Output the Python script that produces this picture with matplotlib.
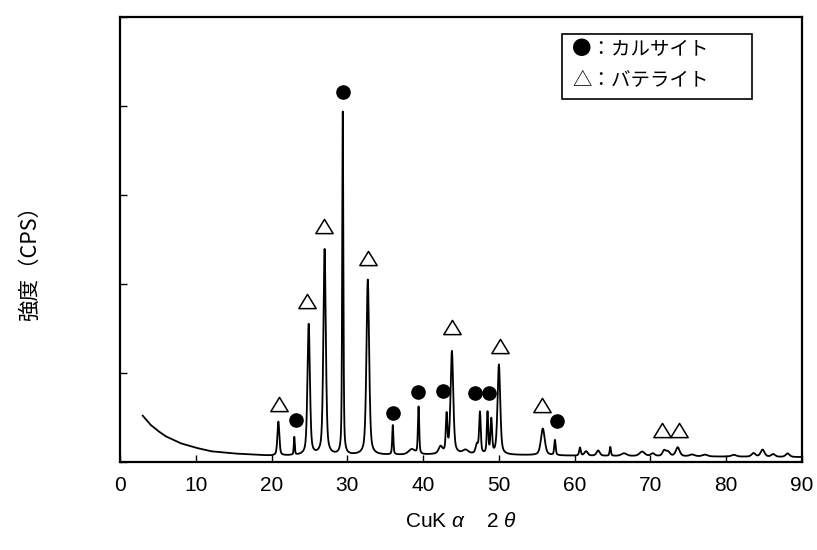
import numpy as np
import matplotlib
matplotlib.use("Agg")
import matplotlib.pyplot as plt
from matplotlib.patches import Rectangle
from matplotlib.path import Path

plt.rcParams['font.family'] = ['Liberation Sans', 'Noto Sans CJK JP', 'DejaVu Sans']
plt.rcParams['mathtext.fontset'] = 'custom'
plt.rcParams['mathtext.rm'] = 'Liberation Sans'
plt.rcParams['mathtext.it'] = 'Liberation Sans:italic'

# Background level of the diffraction trace (2θ, intensity)
bg_angle = [3, 4, 5, 6, 7, 8, 10, 12, 15, 18, 20, 30, 40, 45, 50, 60, 70, 80, 90]
bg_level = [0.52, 0.42, 0.35, 0.29, 0.25, 0.21, 0.16, 0.12, 0.095, 0.08, 0.07,
            0.075, 0.08, 0.09, 0.08, 0.07, 0.065, 0.06, 0.055]

# Reflections: position (2θ), height above background, FWHM
peak_angle = [20.9, 23.0, 24.9, 27.0, 29.4, 32.7, 36.0, 38.5, 39.4, 42.3, 43.1,
              43.8, 45.6, 47.1, 47.5, 48.5, 49.0, 50.0, 55.8, 57.4, 60.7, 61.5,
              63.1, 64.7, 66.5, 68.9, 70.3, 71.8, 72.3, 73.6, 75.5, 77.2, 81.0,
              83.6, 84.8, 86.2, 88.1]
peak_height = [0.38, 0.20, 1.47, 2.31, 3.85, 1.97, 0.33, 0.06, 0.53, 0.08, 0.42,
               1.15, 0.04, 0.10, 0.46, 0.46, 0.38, 1.01, 0.30, 0.17, 0.09, 0.05,
               0.06, 0.10, 0.03, 0.05, 0.03, 0.06, 0.05, 0.10, 0.02, 0.02, 0.02,
               0.04, 0.08, 0.03, 0.04]
peak_width = [0.30, 0.15, 0.38, 0.38, 0.18, 0.42, 0.18, 1.0, 0.20, 0.6, 0.25,
              0.42, 0.8, 0.4, 0.25, 0.22, 0.25, 0.42, 0.60, 0.22, 0.25, 0.5,
              0.5, 0.2, 0.8, 0.8, 0.6, 0.5, 0.6, 0.6, 0.8, 0.8, 0.8,
              0.6, 0.6, 0.6, 0.6]

# Phase markers placed above the reflections
calcite_x = [23.2, 29.4, 36.0, 39.3, 42.6, 46.8, 48.7, 57.7]
calcite_y = [0.47, 4.16, 0.55, 0.79, 0.80, 0.78, 0.78, 0.46]
vaterite_x = [21.0, 24.7, 26.9, 32.7, 43.8, 50.1, 55.7, 71.5, 73.8]
vaterite_y = [0.65, 1.81, 2.65, 2.29, 1.52, 1.30, 0.64, 0.36, 0.36]

x_ticks = list(range(0, 91, 10))
y_ticks = [0, 1, 2, 3, 4, 5]

two_theta = np.arange(3.0, 90.0, 0.02)
intensity = np.interp(two_theta, bg_angle, bg_level)
for c, h, w in zip(peak_angle, peak_height, peak_width):
    g = 0.5 * w
    lor = 1.0 / (1.0 + ((two_theta - c) / g) ** 2)
    gau = np.exp(-np.log(2) * ((two_theta - c) / g) ** 2)
    intensity += h * (0.5 * lor + 0.5 * gau)

fig = plt.figure(figsize=(8.17, 5.5), dpi=100)
ax = fig.add_axes([120 / 817, 88 / 550, 682 / 817, 445 / 550])

ax.plot(two_theta, intensity, color='black', lw=1.3, zorder=2)

tri = Path([(-1, -0.82), (1, -0.82), (0, 0.82), (-1, -0.82)],
           [Path.MOVETO, Path.LINETO, Path.LINETO, Path.CLOSEPOLY])
ax.plot(vaterite_x, vaterite_y, linestyle='none', marker=tri, markersize=12.5,
        markerfacecolor='white', markeredgecolor='black', markeredgewidth=1.1, zorder=3)
ax.plot(calcite_x, calcite_y, linestyle='none', marker='o', markersize=9.5,
        markerfacecolor='black', markeredgecolor='black', zorder=3)

ax.set_xlim(0, 90)
ax.set_ylim(0, 5)
ax.set_xticks(x_ticks)
ax.set_yticks(y_ticks)
ax.set_yticklabels([])
ax.tick_params(axis='both', direction='in', length=5, width=1, color='black')
ax.tick_params(axis='x', labelsize=15, pad=10)
for s in ax.spines.values():
    s.set_linewidth(1.6)
    s.set_color('black')

ax.set_xlabel(r'CuK $\it{α}$    2 $\it{θ}$', fontsize=15, labelpad=12)
fig.text(30 / 817, 1 - 258 / 550, '強度（CPS）', rotation=90, fontsize=15.5,
         ha='center', va='center', family=['Noto Sans CJK JP', 'DejaVu Sans'])

# Phase key
ax.add_patch(Rectangle((0.648, 0.816), 0.279, 0.146, transform=ax.transAxes,
                       facecolor='white', edgecolor='black', lw=1.2, zorder=4))
ax.text(0.663, 0.926, '●：カルサイト', transform=ax.transAxes, fontsize=14,
        va='center', ha='left', family=['Noto Sans CJK JP', 'DejaVu Sans'], zorder=5)
ax.text(0.663, 0.858, '△：バテライト', transform=ax.transAxes, fontsize=14,
        va='center', ha='left', family=['Noto Sans CJK JP', 'DejaVu Sans'], zorder=5)

fig.savefig('out.png', dpi=100)
